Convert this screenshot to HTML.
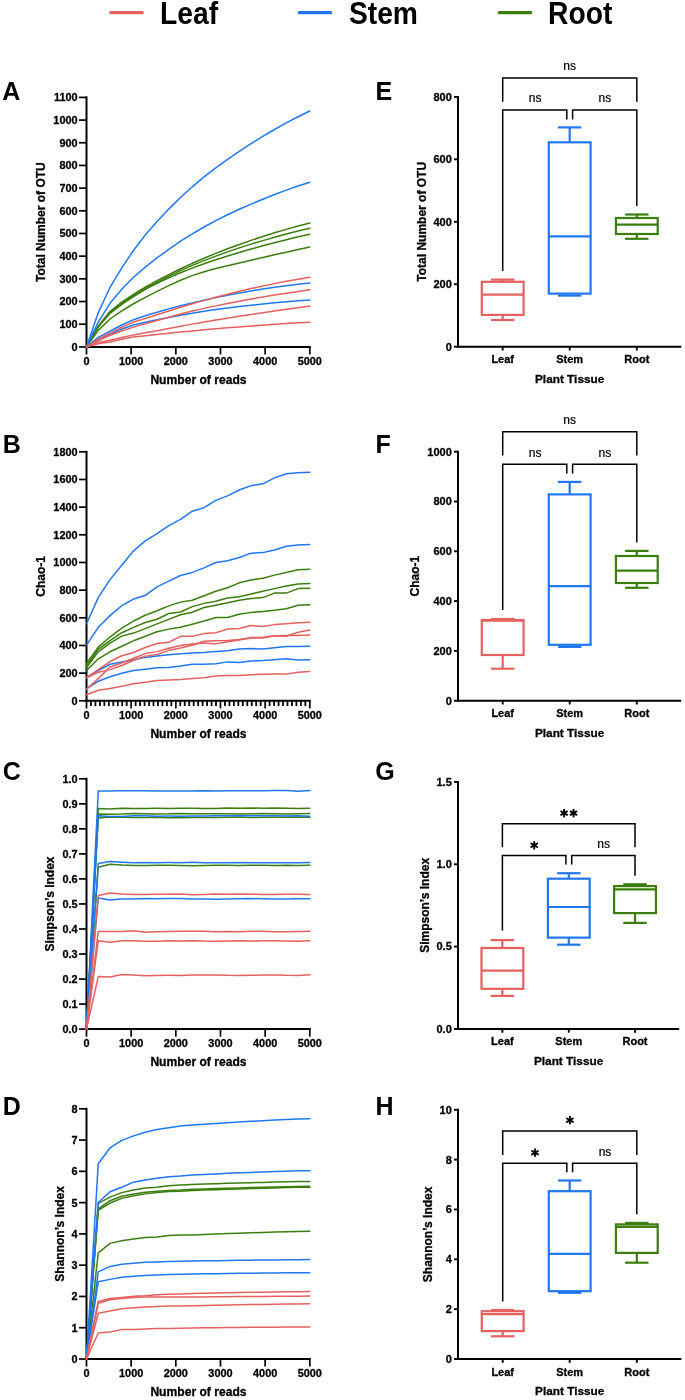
<!DOCTYPE html>
<html><head><meta charset="utf-8"><style>
html,body{margin:0;padding:0;background:#fff;}
svg{display:block;will-change:transform;}
text{font-family:"Liberation Sans", sans-serif;fill:#000;}
text.s{stroke:#000;stroke-width:0.3px;}
text.r{stroke:#000;stroke-width:0.22px;}
</style></head><body>
<svg width="685" height="1400" viewBox="0 0 685 1400">
<rect width="685" height="1400" fill="#fff"/>
<line x1="86.50" y1="96.40" x2="86.50" y2="347.90" stroke="#000" stroke-width="2.0" stroke-linecap="butt"/>
<line x1="85.50" y1="346.90" x2="310.80" y2="346.90" stroke="#000" stroke-width="2.0" stroke-linecap="butt"/>
<line x1="79.00" y1="346.90" x2="86.50" y2="346.90" stroke="#000" stroke-width="1.7" stroke-linecap="butt"/>
<text x="77.60" y="350.80" font-size="10.9" font-weight="bold" text-anchor="end" class="s">0</text>
<line x1="79.00" y1="324.22" x2="86.50" y2="324.22" stroke="#000" stroke-width="1.7" stroke-linecap="butt"/>
<text x="77.60" y="328.12" font-size="10.9" font-weight="bold" text-anchor="end" class="s">100</text>
<line x1="79.00" y1="301.54" x2="86.50" y2="301.54" stroke="#000" stroke-width="1.7" stroke-linecap="butt"/>
<text x="77.60" y="305.44" font-size="10.9" font-weight="bold" text-anchor="end" class="s">200</text>
<line x1="79.00" y1="278.85" x2="86.50" y2="278.85" stroke="#000" stroke-width="1.7" stroke-linecap="butt"/>
<text x="77.60" y="282.75" font-size="10.9" font-weight="bold" text-anchor="end" class="s">300</text>
<line x1="79.00" y1="256.17" x2="86.50" y2="256.17" stroke="#000" stroke-width="1.7" stroke-linecap="butt"/>
<text x="77.60" y="260.07" font-size="10.9" font-weight="bold" text-anchor="end" class="s">400</text>
<line x1="79.00" y1="233.49" x2="86.50" y2="233.49" stroke="#000" stroke-width="1.7" stroke-linecap="butt"/>
<text x="77.60" y="237.39" font-size="10.9" font-weight="bold" text-anchor="end" class="s">500</text>
<line x1="79.00" y1="210.81" x2="86.50" y2="210.81" stroke="#000" stroke-width="1.7" stroke-linecap="butt"/>
<text x="77.60" y="214.71" font-size="10.9" font-weight="bold" text-anchor="end" class="s">600</text>
<line x1="79.00" y1="188.13" x2="86.50" y2="188.13" stroke="#000" stroke-width="1.7" stroke-linecap="butt"/>
<text x="77.60" y="192.03" font-size="10.9" font-weight="bold" text-anchor="end" class="s">700</text>
<line x1="79.00" y1="165.45" x2="86.50" y2="165.45" stroke="#000" stroke-width="1.7" stroke-linecap="butt"/>
<text x="77.60" y="169.35" font-size="10.9" font-weight="bold" text-anchor="end" class="s">800</text>
<line x1="79.00" y1="142.76" x2="86.50" y2="142.76" stroke="#000" stroke-width="1.7" stroke-linecap="butt"/>
<text x="77.60" y="146.66" font-size="10.9" font-weight="bold" text-anchor="end" class="s">900</text>
<line x1="79.00" y1="120.08" x2="86.50" y2="120.08" stroke="#000" stroke-width="1.7" stroke-linecap="butt"/>
<text x="77.60" y="123.98" font-size="10.9" font-weight="bold" text-anchor="end" class="s">1000</text>
<line x1="79.00" y1="97.40" x2="86.50" y2="97.40" stroke="#000" stroke-width="1.7" stroke-linecap="butt"/>
<text x="77.60" y="101.30" font-size="10.9" font-weight="bold" text-anchor="end" class="s">1100</text>
<line x1="86.50" y1="346.90" x2="86.50" y2="354.50" stroke="#000" stroke-width="1.7" stroke-linecap="butt"/>
<text x="86.50" y="365.10" font-size="10.9" font-weight="bold" text-anchor="middle" class="s">0</text>
<line x1="131.16" y1="346.90" x2="131.16" y2="354.50" stroke="#000" stroke-width="1.7" stroke-linecap="butt"/>
<text x="131.16" y="365.10" font-size="10.9" font-weight="bold" text-anchor="middle" class="s">1000</text>
<line x1="175.82" y1="346.90" x2="175.82" y2="354.50" stroke="#000" stroke-width="1.7" stroke-linecap="butt"/>
<text x="175.82" y="365.10" font-size="10.9" font-weight="bold" text-anchor="middle" class="s">2000</text>
<line x1="220.48" y1="346.90" x2="220.48" y2="354.50" stroke="#000" stroke-width="1.7" stroke-linecap="butt"/>
<text x="220.48" y="365.10" font-size="10.9" font-weight="bold" text-anchor="middle" class="s">3000</text>
<line x1="265.14" y1="346.90" x2="265.14" y2="354.50" stroke="#000" stroke-width="1.7" stroke-linecap="butt"/>
<text x="265.14" y="365.10" font-size="10.9" font-weight="bold" text-anchor="middle" class="s">4000</text>
<line x1="309.80" y1="346.90" x2="309.80" y2="354.50" stroke="#000" stroke-width="1.7" stroke-linecap="butt"/>
<text x="309.80" y="365.10" font-size="10.9" font-weight="bold" text-anchor="middle" class="s">5000</text>
<text x="198.45" y="384.20" font-size="12.1" font-weight="bold" text-anchor="middle" class="s">Number of reads</text>
<text class="s" x="0" y="0" font-size="12" font-weight="bold" text-anchor="middle" transform="translate(45.00,222.15) rotate(-90)">Total Number of OTU</text>
<polyline points="86.50,346.90 98.25,330.34 110.01,319.00 121.76,310.84 133.51,303.76 145.26,297.31 157.02,291.32 168.77,285.58 180.52,280.29 192.27,275.65 204.03,271.81 215.78,268.55 227.53,265.66 239.28,262.95 251.04,260.26 262.79,257.51 274.54,254.80 286.29,252.16 298.05,249.60 309.80,247.10" fill="none" stroke="#3b7e0e" stroke-width="1.5" stroke-linejoin="round" stroke-linecap="round"/>
<polyline points="86.50,346.90 98.25,326.94 110.01,313.33 121.76,304.33 133.51,296.54 145.26,289.30 157.02,283.28 168.77,277.80 180.52,272.78 192.27,268.14 204.03,263.79 215.78,259.76 227.53,255.99 239.28,252.45 251.04,249.06 262.79,245.80 274.54,242.66 286.29,239.67 298.05,236.84 309.80,234.17" fill="none" stroke="#3b7e0e" stroke-width="1.5" stroke-linejoin="round" stroke-linecap="round"/>
<polyline points="86.50,346.90 98.25,326.49 110.01,312.42 121.76,303.22 133.51,295.44 145.26,288.35 157.02,282.05 168.77,276.13 180.52,270.59 192.27,265.42 204.03,260.61 215.78,256.11 227.53,251.87 239.28,247.89 251.04,244.15 262.79,240.60 274.54,237.22 286.29,234.03 298.05,231.04 309.80,228.27" fill="none" stroke="#3b7e0e" stroke-width="1.5" stroke-linejoin="round" stroke-linecap="round"/>
<polyline points="86.50,346.90 98.25,326.03 110.01,311.52 121.76,302.14 133.51,294.31 145.26,287.19 157.02,280.71 168.77,274.57 180.52,268.76 192.27,263.31 204.03,258.19 215.78,253.35 227.53,248.77 239.28,244.45 251.04,240.37 262.79,236.51 274.54,232.84 286.29,229.36 298.05,226.09 309.80,223.06" fill="none" stroke="#3b7e0e" stroke-width="1.5" stroke-linejoin="round" stroke-linecap="round"/>
<polyline points="86.50,346.90 98.25,339.19 110.01,334.20 121.76,329.05 133.51,324.94 145.26,322.32 157.02,319.83 168.77,317.44 180.52,315.20 192.27,313.14 204.03,311.30 215.78,309.60 227.53,308.03 239.28,306.58 251.04,305.25 262.79,304.02 274.54,302.87 286.29,301.79 298.05,300.82 309.80,299.95" fill="none" stroke="#2178ee" stroke-width="1.5" stroke-linejoin="round" stroke-linecap="round"/>
<polyline points="86.50,346.90 98.25,337.37 110.01,331.25 121.76,325.02 133.51,319.67 145.26,315.73 157.02,312.20 168.77,308.89 180.52,305.80 192.27,302.91 204.03,300.20 215.78,297.63 227.53,295.20 239.28,292.95 251.04,290.90 262.79,289.04 274.54,287.29 286.29,285.68 298.05,284.22 309.80,282.94" fill="none" stroke="#2178ee" stroke-width="1.5" stroke-linejoin="round" stroke-linecap="round"/>
<polyline points="86.50,346.90 98.25,322.18 110.01,303.35 121.76,289.21 133.51,277.25 145.26,267.10 157.02,257.94 168.77,249.31 180.52,241.24 192.27,233.80 204.03,226.98 215.78,220.67 227.53,214.79 239.28,209.29 251.04,204.12 262.79,199.21 274.54,194.55 286.29,190.14 298.05,186.03 309.80,182.23" fill="none" stroke="#2178ee" stroke-width="1.5" stroke-linejoin="round" stroke-linecap="round"/>
<polyline points="86.50,346.90 98.25,312.65 110.01,287.47 121.76,267.84 133.51,250.49 145.26,235.05 157.02,221.60 168.77,209.10 180.52,197.52 192.27,186.81 204.03,176.94 215.78,167.79 227.53,159.27 239.28,151.28 251.04,143.70 262.79,136.45 274.54,129.52 286.29,122.95 298.05,116.77 309.80,111.01" fill="none" stroke="#2178ee" stroke-width="1.5" stroke-linejoin="round" stroke-linecap="round"/>
<polyline points="86.50,346.90 98.25,343.72 110.01,341.91 121.76,339.28 133.51,337.05 145.26,335.74 157.02,334.46 168.77,333.21 180.52,332.02 192.27,330.88 204.03,329.82 215.78,328.80 227.53,327.83 239.28,326.90 251.04,326.02 262.79,325.18 274.54,324.37 286.29,323.60 298.05,322.87 309.80,322.18" fill="none" stroke="#e5615f" stroke-width="1.5" stroke-linejoin="round" stroke-linecap="round"/>
<polyline points="86.50,346.90 98.25,342.59 110.01,340.32 121.76,337.50 133.51,334.89 145.26,332.84 157.02,330.68 168.77,328.46 180.52,326.26 192.27,324.12 204.03,322.07 215.78,320.09 227.53,318.16 239.28,316.28 251.04,314.46 262.79,312.69 274.54,310.96 286.29,309.28 298.05,307.65 309.80,306.07" fill="none" stroke="#e5615f" stroke-width="1.5" stroke-linejoin="round" stroke-linecap="round"/>
<polyline points="86.50,346.90 98.25,340.78 110.01,335.33 121.76,330.95 133.51,327.12 145.26,323.74 157.02,320.43 168.77,317.16 180.52,314.02 192.27,311.08 204.03,308.38 215.78,305.87 227.53,303.50 239.28,301.25 251.04,299.11 262.79,297.05 274.54,295.08 286.29,293.20 298.05,291.42 309.80,289.74" fill="none" stroke="#e5615f" stroke-width="1.5" stroke-linejoin="round" stroke-linecap="round"/>
<polyline points="86.50,346.90 98.25,339.07 110.01,333.29 121.76,327.15 133.51,322.03 145.26,318.45 157.02,314.70 168.77,310.92 180.52,307.21 192.27,303.66 204.03,300.37 215.78,297.20 227.53,294.16 239.28,291.28 251.04,288.57 262.79,286.04 274.54,283.64 286.29,281.36 298.05,279.24 309.80,277.27" fill="none" stroke="#e5615f" stroke-width="1.5" stroke-linejoin="round" stroke-linecap="round"/>
<line x1="86.50" y1="450.80" x2="86.50" y2="701.80" stroke="#000" stroke-width="2.0" stroke-linecap="butt"/>
<line x1="85.50" y1="700.80" x2="310.80" y2="700.80" stroke="#000" stroke-width="2.0" stroke-linecap="butt"/>
<line x1="79.00" y1="700.80" x2="86.50" y2="700.80" stroke="#000" stroke-width="1.7" stroke-linecap="butt"/>
<text x="77.60" y="704.70" font-size="10.9" font-weight="bold" text-anchor="end" class="s">0</text>
<line x1="79.00" y1="673.13" x2="86.50" y2="673.13" stroke="#000" stroke-width="1.7" stroke-linecap="butt"/>
<text x="77.60" y="677.03" font-size="10.9" font-weight="bold" text-anchor="end" class="s">200</text>
<line x1="79.00" y1="645.47" x2="86.50" y2="645.47" stroke="#000" stroke-width="1.7" stroke-linecap="butt"/>
<text x="77.60" y="649.37" font-size="10.9" font-weight="bold" text-anchor="end" class="s">400</text>
<line x1="79.00" y1="617.80" x2="86.50" y2="617.80" stroke="#000" stroke-width="1.7" stroke-linecap="butt"/>
<text x="77.60" y="621.70" font-size="10.9" font-weight="bold" text-anchor="end" class="s">600</text>
<line x1="79.00" y1="590.13" x2="86.50" y2="590.13" stroke="#000" stroke-width="1.7" stroke-linecap="butt"/>
<text x="77.60" y="594.03" font-size="10.9" font-weight="bold" text-anchor="end" class="s">800</text>
<line x1="79.00" y1="562.47" x2="86.50" y2="562.47" stroke="#000" stroke-width="1.7" stroke-linecap="butt"/>
<text x="77.60" y="566.37" font-size="10.9" font-weight="bold" text-anchor="end" class="s">1000</text>
<line x1="79.00" y1="534.80" x2="86.50" y2="534.80" stroke="#000" stroke-width="1.7" stroke-linecap="butt"/>
<text x="77.60" y="538.70" font-size="10.9" font-weight="bold" text-anchor="end" class="s">1200</text>
<line x1="79.00" y1="507.13" x2="86.50" y2="507.13" stroke="#000" stroke-width="1.7" stroke-linecap="butt"/>
<text x="77.60" y="511.03" font-size="10.9" font-weight="bold" text-anchor="end" class="s">1400</text>
<line x1="79.00" y1="479.47" x2="86.50" y2="479.47" stroke="#000" stroke-width="1.7" stroke-linecap="butt"/>
<text x="77.60" y="483.37" font-size="10.9" font-weight="bold" text-anchor="end" class="s">1600</text>
<line x1="79.00" y1="451.80" x2="86.50" y2="451.80" stroke="#000" stroke-width="1.7" stroke-linecap="butt"/>
<text x="77.60" y="455.70" font-size="10.9" font-weight="bold" text-anchor="end" class="s">1800</text>
<line x1="86.50" y1="700.80" x2="86.50" y2="708.40" stroke="#000" stroke-width="1.7" stroke-linecap="butt"/>
<text x="86.50" y="719.00" font-size="10.9" font-weight="bold" text-anchor="middle" class="s">0</text>
<line x1="131.16" y1="700.80" x2="131.16" y2="708.40" stroke="#000" stroke-width="1.7" stroke-linecap="butt"/>
<text x="131.16" y="719.00" font-size="10.9" font-weight="bold" text-anchor="middle" class="s">1000</text>
<line x1="175.82" y1="700.80" x2="175.82" y2="708.40" stroke="#000" stroke-width="1.7" stroke-linecap="butt"/>
<text x="175.82" y="719.00" font-size="10.9" font-weight="bold" text-anchor="middle" class="s">2000</text>
<line x1="220.48" y1="700.80" x2="220.48" y2="708.40" stroke="#000" stroke-width="1.7" stroke-linecap="butt"/>
<text x="220.48" y="719.00" font-size="10.9" font-weight="bold" text-anchor="middle" class="s">3000</text>
<line x1="265.14" y1="700.80" x2="265.14" y2="708.40" stroke="#000" stroke-width="1.7" stroke-linecap="butt"/>
<text x="265.14" y="719.00" font-size="10.9" font-weight="bold" text-anchor="middle" class="s">4000</text>
<line x1="309.80" y1="700.80" x2="309.80" y2="708.40" stroke="#000" stroke-width="1.7" stroke-linecap="butt"/>
<text x="309.80" y="719.00" font-size="10.9" font-weight="bold" text-anchor="middle" class="s">5000</text>
<line x1="90.97" y1="700.80" x2="90.97" y2="706.10" stroke="#000" stroke-width="1.8" stroke-linecap="butt"/>
<line x1="95.43" y1="700.80" x2="95.43" y2="706.10" stroke="#000" stroke-width="1.8" stroke-linecap="butt"/>
<line x1="99.90" y1="700.80" x2="99.90" y2="706.10" stroke="#000" stroke-width="1.8" stroke-linecap="butt"/>
<line x1="104.36" y1="700.80" x2="104.36" y2="706.10" stroke="#000" stroke-width="1.8" stroke-linecap="butt"/>
<line x1="108.83" y1="700.80" x2="108.83" y2="706.10" stroke="#000" stroke-width="1.8" stroke-linecap="butt"/>
<line x1="113.30" y1="700.80" x2="113.30" y2="706.10" stroke="#000" stroke-width="1.8" stroke-linecap="butt"/>
<line x1="117.76" y1="700.80" x2="117.76" y2="706.10" stroke="#000" stroke-width="1.8" stroke-linecap="butt"/>
<line x1="122.23" y1="700.80" x2="122.23" y2="706.10" stroke="#000" stroke-width="1.8" stroke-linecap="butt"/>
<line x1="126.69" y1="700.80" x2="126.69" y2="706.10" stroke="#000" stroke-width="1.8" stroke-linecap="butt"/>
<line x1="135.63" y1="700.80" x2="135.63" y2="706.10" stroke="#000" stroke-width="1.8" stroke-linecap="butt"/>
<line x1="140.09" y1="700.80" x2="140.09" y2="706.10" stroke="#000" stroke-width="1.8" stroke-linecap="butt"/>
<line x1="144.56" y1="700.80" x2="144.56" y2="706.10" stroke="#000" stroke-width="1.8" stroke-linecap="butt"/>
<line x1="149.02" y1="700.80" x2="149.02" y2="706.10" stroke="#000" stroke-width="1.8" stroke-linecap="butt"/>
<line x1="153.49" y1="700.80" x2="153.49" y2="706.10" stroke="#000" stroke-width="1.8" stroke-linecap="butt"/>
<line x1="157.96" y1="700.80" x2="157.96" y2="706.10" stroke="#000" stroke-width="1.8" stroke-linecap="butt"/>
<line x1="162.42" y1="700.80" x2="162.42" y2="706.10" stroke="#000" stroke-width="1.8" stroke-linecap="butt"/>
<line x1="166.89" y1="700.80" x2="166.89" y2="706.10" stroke="#000" stroke-width="1.8" stroke-linecap="butt"/>
<line x1="171.35" y1="700.80" x2="171.35" y2="706.10" stroke="#000" stroke-width="1.8" stroke-linecap="butt"/>
<line x1="180.29" y1="700.80" x2="180.29" y2="706.10" stroke="#000" stroke-width="1.8" stroke-linecap="butt"/>
<line x1="184.75" y1="700.80" x2="184.75" y2="706.10" stroke="#000" stroke-width="1.8" stroke-linecap="butt"/>
<line x1="189.22" y1="700.80" x2="189.22" y2="706.10" stroke="#000" stroke-width="1.8" stroke-linecap="butt"/>
<line x1="193.68" y1="700.80" x2="193.68" y2="706.10" stroke="#000" stroke-width="1.8" stroke-linecap="butt"/>
<line x1="198.15" y1="700.80" x2="198.15" y2="706.10" stroke="#000" stroke-width="1.8" stroke-linecap="butt"/>
<line x1="202.62" y1="700.80" x2="202.62" y2="706.10" stroke="#000" stroke-width="1.8" stroke-linecap="butt"/>
<line x1="207.08" y1="700.80" x2="207.08" y2="706.10" stroke="#000" stroke-width="1.8" stroke-linecap="butt"/>
<line x1="211.55" y1="700.80" x2="211.55" y2="706.10" stroke="#000" stroke-width="1.8" stroke-linecap="butt"/>
<line x1="216.01" y1="700.80" x2="216.01" y2="706.10" stroke="#000" stroke-width="1.8" stroke-linecap="butt"/>
<line x1="224.95" y1="700.80" x2="224.95" y2="706.10" stroke="#000" stroke-width="1.8" stroke-linecap="butt"/>
<line x1="229.41" y1="700.80" x2="229.41" y2="706.10" stroke="#000" stroke-width="1.8" stroke-linecap="butt"/>
<line x1="233.88" y1="700.80" x2="233.88" y2="706.10" stroke="#000" stroke-width="1.8" stroke-linecap="butt"/>
<line x1="238.34" y1="700.80" x2="238.34" y2="706.10" stroke="#000" stroke-width="1.8" stroke-linecap="butt"/>
<line x1="242.81" y1="700.80" x2="242.81" y2="706.10" stroke="#000" stroke-width="1.8" stroke-linecap="butt"/>
<line x1="247.28" y1="700.80" x2="247.28" y2="706.10" stroke="#000" stroke-width="1.8" stroke-linecap="butt"/>
<line x1="251.74" y1="700.80" x2="251.74" y2="706.10" stroke="#000" stroke-width="1.8" stroke-linecap="butt"/>
<line x1="256.21" y1="700.80" x2="256.21" y2="706.10" stroke="#000" stroke-width="1.8" stroke-linecap="butt"/>
<line x1="260.67" y1="700.80" x2="260.67" y2="706.10" stroke="#000" stroke-width="1.8" stroke-linecap="butt"/>
<line x1="269.61" y1="700.80" x2="269.61" y2="706.10" stroke="#000" stroke-width="1.8" stroke-linecap="butt"/>
<line x1="274.07" y1="700.80" x2="274.07" y2="706.10" stroke="#000" stroke-width="1.8" stroke-linecap="butt"/>
<line x1="278.54" y1="700.80" x2="278.54" y2="706.10" stroke="#000" stroke-width="1.8" stroke-linecap="butt"/>
<line x1="283.00" y1="700.80" x2="283.00" y2="706.10" stroke="#000" stroke-width="1.8" stroke-linecap="butt"/>
<line x1="287.47" y1="700.80" x2="287.47" y2="706.10" stroke="#000" stroke-width="1.8" stroke-linecap="butt"/>
<line x1="291.94" y1="700.80" x2="291.94" y2="706.10" stroke="#000" stroke-width="1.8" stroke-linecap="butt"/>
<line x1="296.40" y1="700.80" x2="296.40" y2="706.10" stroke="#000" stroke-width="1.8" stroke-linecap="butt"/>
<line x1="300.87" y1="700.80" x2="300.87" y2="706.10" stroke="#000" stroke-width="1.8" stroke-linecap="butt"/>
<line x1="305.33" y1="700.80" x2="305.33" y2="706.10" stroke="#000" stroke-width="1.8" stroke-linecap="butt"/>
<text x="198.45" y="738.10" font-size="12.1" font-weight="bold" text-anchor="middle" class="s">Number of reads</text>
<text class="s" x="0" y="0" font-size="12" font-weight="bold" text-anchor="middle" transform="translate(45.40,576.30) rotate(-90)">Chao-1</text>
<polyline points="86.50,670.52 98.25,658.82 110.01,651.80 121.76,646.22 133.51,640.82 145.26,636.32 157.02,631.82 168.77,629.12 180.52,627.32 192.27,624.26 204.03,621.02 215.78,617.42 227.53,617.42 239.28,614.18 251.04,612.38 262.79,611.48 274.54,610.22 286.29,608.78 298.05,605.18 309.80,604.82" fill="none" stroke="#3b7e0e" stroke-width="1.5" stroke-linejoin="round" stroke-linecap="round"/>
<polyline points="86.50,667.46 98.25,651.80 110.01,643.16 121.76,636.14 133.51,633.08 145.26,628.58 157.02,623.90 168.77,619.40 180.52,614.72 192.27,612.20 204.03,607.52 215.78,605.18 227.53,602.66 239.28,600.32 251.04,598.51 262.79,597.61 274.54,593.11 286.29,593.11 298.05,588.61 309.80,588.25" fill="none" stroke="#3b7e0e" stroke-width="1.5" stroke-linejoin="round" stroke-linecap="round"/>
<polyline points="86.50,665.48 98.25,649.28 110.01,640.64 121.76,632.72 133.51,627.32 145.26,622.46 157.02,619.22 168.77,613.46 180.52,612.02 192.27,606.62 204.03,603.38 215.78,601.22 227.53,597.97 239.28,596.71 251.04,594.01 262.79,591.31 274.54,588.61 286.29,585.91 298.05,584.11 309.80,583.57" fill="none" stroke="#3b7e0e" stroke-width="1.5" stroke-linejoin="round" stroke-linecap="round"/>
<polyline points="86.50,663.50 98.25,647.12 110.01,637.04 121.76,628.22 133.51,621.02 145.26,615.26 157.02,610.76 168.77,605.90 180.52,602.12 192.27,600.32 204.03,595.81 215.78,591.31 227.53,587.71 239.28,582.85 251.04,579.97 262.79,578.17 274.54,575.11 286.29,572.41 298.05,569.71 309.80,569.17" fill="none" stroke="#3b7e0e" stroke-width="1.5" stroke-linejoin="round" stroke-linecap="round"/>
<polyline points="86.50,688.52 98.25,681.32 110.01,676.82 121.76,673.22 133.51,670.52 145.26,669.26 157.02,667.82 168.77,667.46 180.52,666.02 192.27,664.22 204.03,664.22 215.78,663.68 227.53,661.88 239.28,662.42 251.04,660.98 262.79,660.62 274.54,659.72 286.29,658.82 298.05,660.08 309.80,659.72" fill="none" stroke="#2178ee" stroke-width="1.5" stroke-linejoin="round" stroke-linecap="round"/>
<polyline points="86.50,677.72 98.25,670.52 110.01,664.22 121.76,662.06 133.51,659.72 145.26,657.38 157.02,656.12 168.77,654.86 180.52,653.78 192.27,653.06 204.03,652.52 215.78,651.62 227.53,650.72 239.28,648.92 251.04,648.56 262.79,648.92 274.54,647.66 286.29,646.58 298.05,646.58 309.80,646.22" fill="none" stroke="#2178ee" stroke-width="1.5" stroke-linejoin="round" stroke-linecap="round"/>
<polyline points="86.50,645.14 98.25,627.32 110.01,615.62 121.76,605.72 133.51,599.05 145.26,595.45 157.02,586.81 168.77,581.05 180.52,575.47 192.27,572.41 204.03,567.91 215.78,562.51 227.53,560.71 239.28,557.47 251.04,553.15 262.79,552.61 274.54,549.91 286.29,546.31 298.05,545.05 309.80,544.51" fill="none" stroke="#2178ee" stroke-width="1.5" stroke-linejoin="round" stroke-linecap="round"/>
<polyline points="86.50,623.72 98.25,597.61 110.01,579.61 121.76,565.21 133.51,550.81 145.26,540.91 157.02,533.71 168.77,525.61 180.52,519.31 192.27,511.21 204.03,507.61 215.78,500.41 227.53,495.90 239.28,489.96 251.04,485.64 262.79,483.84 274.54,477.90 286.29,473.76 298.05,472.86 309.80,472.32" fill="none" stroke="#2178ee" stroke-width="1.5" stroke-linejoin="round" stroke-linecap="round"/>
<polyline points="86.50,694.82 98.25,690.32 110.01,688.52 121.76,686.36 133.51,683.66 145.26,682.22 157.02,680.42 168.77,679.88 180.52,679.52 192.27,678.62 204.03,677.72 215.78,675.92 227.53,675.56 239.28,675.38 251.04,674.66 262.79,674.30 274.54,674.12 286.29,674.12 298.05,672.32 309.80,671.42" fill="none" stroke="#e5615f" stroke-width="1.5" stroke-linejoin="round" stroke-linecap="round"/>
<polyline points="86.50,689.42 98.25,678.62 110.01,666.92 121.76,662.96 133.51,658.28 145.26,653.60 157.02,651.62 168.77,648.20 180.52,645.50 192.27,644.06 204.03,642.98 215.78,643.88 227.53,641.72 239.28,639.92 251.04,638.12 262.79,638.12 274.54,635.78 286.29,635.42 298.05,635.42 309.80,635.06" fill="none" stroke="#e5615f" stroke-width="1.5" stroke-linejoin="round" stroke-linecap="round"/>
<polyline points="86.50,677.72 98.25,672.32 110.01,669.62 121.76,665.48 133.51,660.26 145.26,656.12 157.02,654.50 168.77,650.36 180.52,648.02 192.27,645.32 204.03,641.18 215.78,640.82 227.53,640.46 239.28,639.38 251.04,637.58 262.79,637.22 274.54,635.78 286.29,636.32 298.05,632.18 309.80,630.02" fill="none" stroke="#e5615f" stroke-width="1.5" stroke-linejoin="round" stroke-linecap="round"/>
<polyline points="86.50,677.72 98.25,669.62 110.01,661.52 121.76,655.76 133.51,652.52 145.26,647.48 157.02,643.52 168.77,642.26 180.52,636.32 192.27,636.32 204.03,633.62 215.78,632.72 227.53,629.12 239.28,628.58 251.04,625.52 262.79,626.42 274.54,624.62 286.29,623.72 298.05,622.82 309.80,622.28" fill="none" stroke="#e5615f" stroke-width="1.5" stroke-linejoin="round" stroke-linecap="round"/>
<line x1="86.50" y1="777.80" x2="86.50" y2="1030.10" stroke="#000" stroke-width="2.0" stroke-linecap="butt"/>
<line x1="85.50" y1="1029.10" x2="310.80" y2="1029.10" stroke="#000" stroke-width="2.0" stroke-linecap="butt"/>
<line x1="79.00" y1="1029.10" x2="86.50" y2="1029.10" stroke="#000" stroke-width="1.7" stroke-linecap="butt"/>
<text x="77.60" y="1033.00" font-size="10.9" font-weight="bold" text-anchor="end" class="s">0.0</text>
<line x1="79.00" y1="1004.07" x2="86.50" y2="1004.07" stroke="#000" stroke-width="1.7" stroke-linecap="butt"/>
<text x="77.60" y="1007.97" font-size="10.9" font-weight="bold" text-anchor="end" class="s">0.1</text>
<line x1="79.00" y1="979.04" x2="86.50" y2="979.04" stroke="#000" stroke-width="1.7" stroke-linecap="butt"/>
<text x="77.60" y="982.94" font-size="10.9" font-weight="bold" text-anchor="end" class="s">0.2</text>
<line x1="79.00" y1="954.01" x2="86.50" y2="954.01" stroke="#000" stroke-width="1.7" stroke-linecap="butt"/>
<text x="77.60" y="957.91" font-size="10.9" font-weight="bold" text-anchor="end" class="s">0.3</text>
<line x1="79.00" y1="928.98" x2="86.50" y2="928.98" stroke="#000" stroke-width="1.7" stroke-linecap="butt"/>
<text x="77.60" y="932.88" font-size="10.9" font-weight="bold" text-anchor="end" class="s">0.4</text>
<line x1="79.00" y1="903.95" x2="86.50" y2="903.95" stroke="#000" stroke-width="1.7" stroke-linecap="butt"/>
<text x="77.60" y="907.85" font-size="10.9" font-weight="bold" text-anchor="end" class="s">0.5</text>
<line x1="79.00" y1="878.92" x2="86.50" y2="878.92" stroke="#000" stroke-width="1.7" stroke-linecap="butt"/>
<text x="77.60" y="882.82" font-size="10.9" font-weight="bold" text-anchor="end" class="s">0.6</text>
<line x1="79.00" y1="853.89" x2="86.50" y2="853.89" stroke="#000" stroke-width="1.7" stroke-linecap="butt"/>
<text x="77.60" y="857.79" font-size="10.9" font-weight="bold" text-anchor="end" class="s">0.7</text>
<line x1="79.00" y1="828.86" x2="86.50" y2="828.86" stroke="#000" stroke-width="1.7" stroke-linecap="butt"/>
<text x="77.60" y="832.76" font-size="10.9" font-weight="bold" text-anchor="end" class="s">0.8</text>
<line x1="79.00" y1="803.83" x2="86.50" y2="803.83" stroke="#000" stroke-width="1.7" stroke-linecap="butt"/>
<text x="77.60" y="807.73" font-size="10.9" font-weight="bold" text-anchor="end" class="s">0.9</text>
<line x1="79.00" y1="778.80" x2="86.50" y2="778.80" stroke="#000" stroke-width="1.7" stroke-linecap="butt"/>
<text x="77.60" y="782.70" font-size="10.9" font-weight="bold" text-anchor="end" class="s">1.0</text>
<line x1="86.50" y1="1029.10" x2="86.50" y2="1036.70" stroke="#000" stroke-width="1.7" stroke-linecap="butt"/>
<text x="86.50" y="1047.30" font-size="10.9" font-weight="bold" text-anchor="middle" class="s">0</text>
<line x1="131.16" y1="1029.10" x2="131.16" y2="1036.70" stroke="#000" stroke-width="1.7" stroke-linecap="butt"/>
<text x="131.16" y="1047.30" font-size="10.9" font-weight="bold" text-anchor="middle" class="s">1000</text>
<line x1="175.82" y1="1029.10" x2="175.82" y2="1036.70" stroke="#000" stroke-width="1.7" stroke-linecap="butt"/>
<text x="175.82" y="1047.30" font-size="10.9" font-weight="bold" text-anchor="middle" class="s">2000</text>
<line x1="220.48" y1="1029.10" x2="220.48" y2="1036.70" stroke="#000" stroke-width="1.7" stroke-linecap="butt"/>
<text x="220.48" y="1047.30" font-size="10.9" font-weight="bold" text-anchor="middle" class="s">3000</text>
<line x1="265.14" y1="1029.10" x2="265.14" y2="1036.70" stroke="#000" stroke-width="1.7" stroke-linecap="butt"/>
<text x="265.14" y="1047.30" font-size="10.9" font-weight="bold" text-anchor="middle" class="s">4000</text>
<line x1="309.80" y1="1029.10" x2="309.80" y2="1036.70" stroke="#000" stroke-width="1.7" stroke-linecap="butt"/>
<text x="309.80" y="1047.30" font-size="10.9" font-weight="bold" text-anchor="middle" class="s">5000</text>
<text x="198.45" y="1066.40" font-size="12.1" font-weight="bold" text-anchor="middle" class="s">Number of reads</text>
<text class="s" x="0" y="0" font-size="12" font-weight="bold" text-anchor="middle" transform="translate(53.60,903.95) rotate(-90)">Simpson’s Index</text>
<polyline points="86.50,1029.10 98.25,808.60 110.01,809.10 121.76,808.20 133.51,808.40 145.26,808.40 157.02,808.37 168.77,808.48 180.52,808.19 192.27,808.34 204.03,808.61 215.78,808.61 227.53,808.07 239.28,808.13 251.04,808.02 262.79,808.29 274.54,808.00 286.29,808.30 298.05,808.44 309.80,808.18" fill="none" stroke="#3b7e0e" stroke-width="1.5" stroke-linejoin="round" stroke-linecap="round"/>
<polyline points="86.50,1029.10 98.25,814.10 110.01,814.30 121.76,814.10 133.51,813.50 145.26,813.80 157.02,813.92 168.77,813.86 180.52,813.47 192.27,813.84 204.03,813.63 215.78,813.74 227.53,813.65 239.28,813.94 251.04,813.76 262.79,813.56 274.54,813.83 286.29,814.00 298.05,813.66 309.80,813.61" fill="none" stroke="#3b7e0e" stroke-width="1.5" stroke-linejoin="round" stroke-linecap="round"/>
<polyline points="86.50,1029.10 98.25,818.10 110.01,817.00 121.76,817.20 133.51,817.40 145.26,817.40 157.02,817.25 168.77,817.64 180.52,817.67 192.27,817.45 204.03,817.62 215.78,817.58 227.53,817.25 239.28,817.05 251.04,817.44 262.79,817.37 274.54,817.24 286.29,817.14 298.05,817.27 309.80,817.31" fill="none" stroke="#3b7e0e" stroke-width="1.5" stroke-linejoin="round" stroke-linecap="round"/>
<polyline points="86.50,1029.10 98.25,867.30 110.01,864.30 121.76,865.10 133.51,865.60 145.26,865.60 157.02,865.27 168.77,865.29 180.52,865.40 192.27,865.69 204.03,865.49 215.78,865.28 227.53,865.28 239.28,865.40 251.04,865.23 262.79,865.22 274.54,865.44 286.29,865.14 298.05,865.42 309.80,865.34" fill="none" stroke="#3b7e0e" stroke-width="1.5" stroke-linejoin="round" stroke-linecap="round"/>
<polyline points="86.50,1029.10 98.25,791.10 110.01,790.90 121.76,790.80 133.51,790.80 145.26,790.80 157.02,790.95 168.77,790.97 180.52,790.93 192.27,790.93 204.03,790.71 215.78,790.92 227.53,790.69 239.28,790.85 251.04,790.68 262.79,790.76 274.54,790.49 286.29,790.62 298.05,791.13 309.80,790.61" fill="none" stroke="#2178ee" stroke-width="1.5" stroke-linejoin="round" stroke-linecap="round"/>
<polyline points="86.50,1029.10 98.25,815.80 110.01,816.40 121.76,816.50 133.51,815.70 145.26,815.80 157.02,816.13 168.77,816.11 180.52,816.16 192.27,815.98 204.03,816.07 215.78,815.70 227.53,815.70 239.28,815.79 251.04,815.76 262.79,815.72 274.54,815.74 286.29,816.04 298.05,815.78 309.80,816.32" fill="none" stroke="#2178ee" stroke-width="1.5" stroke-linejoin="round" stroke-linecap="round"/>
<polyline points="86.50,1029.10 98.25,863.40 110.01,861.60 121.76,862.20 133.51,862.80 145.26,862.60 157.02,862.66 168.77,862.56 180.52,862.68 192.27,862.37 204.03,862.83 215.78,862.77 227.53,862.69 239.28,862.52 251.04,862.77 262.79,862.70 274.54,862.65 286.29,862.82 298.05,862.63 309.80,862.44" fill="none" stroke="#2178ee" stroke-width="1.5" stroke-linejoin="round" stroke-linecap="round"/>
<polyline points="86.50,1029.10 98.25,898.00 110.01,900.00 121.76,898.90 133.51,899.00 145.26,898.50 157.02,898.84 168.77,898.59 180.52,898.58 192.27,898.96 204.03,899.00 215.78,899.13 227.53,899.05 239.28,898.83 251.04,898.51 262.79,898.79 274.54,899.10 286.29,899.00 298.05,898.79 309.80,898.77" fill="none" stroke="#2178ee" stroke-width="1.5" stroke-linejoin="round" stroke-linecap="round"/>
<polyline points="86.50,1029.10 98.25,895.60 110.01,893.00 121.76,894.10 133.51,894.50 145.26,894.50 157.02,894.17 168.77,894.14 180.52,894.07 192.27,894.64 204.03,894.46 215.78,894.12 227.53,894.31 239.28,894.05 251.04,894.16 262.79,894.53 274.54,894.47 286.29,894.35 298.05,894.21 309.80,894.47" fill="none" stroke="#e5615f" stroke-width="1.5" stroke-linejoin="round" stroke-linecap="round"/>
<polyline points="86.50,1029.10 98.25,931.40 110.01,931.60 121.76,931.40 133.51,930.80 145.26,932.30 157.02,931.82 168.77,931.45 180.52,931.20 192.27,931.19 204.03,931.21 215.78,931.82 227.53,931.53 239.28,931.74 251.04,931.27 262.79,931.33 274.54,931.63 286.29,931.78 298.05,931.39 309.80,931.20" fill="none" stroke="#e5615f" stroke-width="1.5" stroke-linejoin="round" stroke-linecap="round"/>
<polyline points="86.50,1029.10 98.25,940.80 110.01,942.30 121.76,940.80 133.51,940.80 145.26,941.20 157.02,941.19 168.77,940.79 180.52,941.10 192.27,940.69 204.03,941.07 215.78,941.17 227.53,941.09 239.28,940.83 251.04,941.09 262.79,940.68 274.54,940.80 286.29,940.88 298.05,941.20 309.80,940.69" fill="none" stroke="#e5615f" stroke-width="1.5" stroke-linejoin="round" stroke-linecap="round"/>
<polyline points="86.50,1029.10 98.25,976.60 110.01,977.10 121.76,974.60 133.51,975.10 145.26,975.70 157.02,975.40 168.77,975.34 180.52,975.46 192.27,975.04 204.03,974.93 215.78,974.95 227.53,975.36 239.28,975.46 251.04,975.27 262.79,975.12 274.54,974.98 286.29,975.37 298.05,975.39 309.80,974.85" fill="none" stroke="#e5615f" stroke-width="1.5" stroke-linejoin="round" stroke-linecap="round"/>
<line x1="86.50" y1="1107.80" x2="86.50" y2="1360.00" stroke="#000" stroke-width="2.0" stroke-linecap="butt"/>
<line x1="85.50" y1="1359.00" x2="310.80" y2="1359.00" stroke="#000" stroke-width="2.0" stroke-linecap="butt"/>
<line x1="79.00" y1="1359.00" x2="86.50" y2="1359.00" stroke="#000" stroke-width="1.7" stroke-linecap="butt"/>
<text x="77.60" y="1362.90" font-size="10.9" font-weight="bold" text-anchor="end" class="s">0</text>
<line x1="79.00" y1="1327.72" x2="86.50" y2="1327.72" stroke="#000" stroke-width="1.7" stroke-linecap="butt"/>
<text x="77.60" y="1331.62" font-size="10.9" font-weight="bold" text-anchor="end" class="s">1</text>
<line x1="79.00" y1="1296.45" x2="86.50" y2="1296.45" stroke="#000" stroke-width="1.7" stroke-linecap="butt"/>
<text x="77.60" y="1300.35" font-size="10.9" font-weight="bold" text-anchor="end" class="s">2</text>
<line x1="79.00" y1="1265.17" x2="86.50" y2="1265.17" stroke="#000" stroke-width="1.7" stroke-linecap="butt"/>
<text x="77.60" y="1269.08" font-size="10.9" font-weight="bold" text-anchor="end" class="s">3</text>
<line x1="79.00" y1="1233.90" x2="86.50" y2="1233.90" stroke="#000" stroke-width="1.7" stroke-linecap="butt"/>
<text x="77.60" y="1237.80" font-size="10.9" font-weight="bold" text-anchor="end" class="s">4</text>
<line x1="79.00" y1="1202.62" x2="86.50" y2="1202.62" stroke="#000" stroke-width="1.7" stroke-linecap="butt"/>
<text x="77.60" y="1206.53" font-size="10.9" font-weight="bold" text-anchor="end" class="s">5</text>
<line x1="79.00" y1="1171.35" x2="86.50" y2="1171.35" stroke="#000" stroke-width="1.7" stroke-linecap="butt"/>
<text x="77.60" y="1175.25" font-size="10.9" font-weight="bold" text-anchor="end" class="s">6</text>
<line x1="79.00" y1="1140.08" x2="86.50" y2="1140.08" stroke="#000" stroke-width="1.7" stroke-linecap="butt"/>
<text x="77.60" y="1143.98" font-size="10.9" font-weight="bold" text-anchor="end" class="s">7</text>
<line x1="79.00" y1="1108.80" x2="86.50" y2="1108.80" stroke="#000" stroke-width="1.7" stroke-linecap="butt"/>
<text x="77.60" y="1112.70" font-size="10.9" font-weight="bold" text-anchor="end" class="s">8</text>
<line x1="86.50" y1="1359.00" x2="86.50" y2="1366.60" stroke="#000" stroke-width="1.7" stroke-linecap="butt"/>
<text x="86.50" y="1377.20" font-size="10.9" font-weight="bold" text-anchor="middle" class="s">0</text>
<line x1="131.16" y1="1359.00" x2="131.16" y2="1366.60" stroke="#000" stroke-width="1.7" stroke-linecap="butt"/>
<text x="131.16" y="1377.20" font-size="10.9" font-weight="bold" text-anchor="middle" class="s">1000</text>
<line x1="175.82" y1="1359.00" x2="175.82" y2="1366.60" stroke="#000" stroke-width="1.7" stroke-linecap="butt"/>
<text x="175.82" y="1377.20" font-size="10.9" font-weight="bold" text-anchor="middle" class="s">2000</text>
<line x1="220.48" y1="1359.00" x2="220.48" y2="1366.60" stroke="#000" stroke-width="1.7" stroke-linecap="butt"/>
<text x="220.48" y="1377.20" font-size="10.9" font-weight="bold" text-anchor="middle" class="s">3000</text>
<line x1="265.14" y1="1359.00" x2="265.14" y2="1366.60" stroke="#000" stroke-width="1.7" stroke-linecap="butt"/>
<text x="265.14" y="1377.20" font-size="10.9" font-weight="bold" text-anchor="middle" class="s">4000</text>
<line x1="309.80" y1="1359.00" x2="309.80" y2="1366.60" stroke="#000" stroke-width="1.7" stroke-linecap="butt"/>
<text x="309.80" y="1377.20" font-size="10.9" font-weight="bold" text-anchor="middle" class="s">5000</text>
<text x="198.45" y="1396.30" font-size="12.1" font-weight="bold" text-anchor="middle" class="s">Number of reads</text>
<text class="s" x="0" y="0" font-size="12" font-weight="bold" text-anchor="middle" transform="translate(64.20,1233.90) rotate(-90)">Shannon’s Index</text>
<polyline points="86.50,1359.00 98.25,1252.91 110.01,1243.37 121.76,1240.85 133.51,1239.05 145.26,1237.61 157.02,1236.89 168.77,1235.45 180.52,1235.09 192.27,1234.91 204.03,1234.45 215.78,1234.01 227.53,1233.58 239.28,1233.17 251.04,1232.77 262.79,1232.41 274.54,1232.06 286.29,1231.76 298.05,1231.49 309.80,1231.31" fill="none" stroke="#3b7e0e" stroke-width="1.5" stroke-linejoin="round" stroke-linecap="round"/>
<polyline points="86.50,1359.00 98.25,1210.25 110.01,1203.05 121.76,1198.37 133.51,1195.85 145.26,1193.87 157.02,1192.43 168.77,1191.53 180.52,1191.17 192.27,1190.45 204.03,1190.03 215.78,1189.63 227.53,1189.25 239.28,1188.88 251.04,1188.52 262.79,1188.19 274.54,1187.89 286.29,1187.61 298.05,1187.37 309.80,1187.21" fill="none" stroke="#3b7e0e" stroke-width="1.5" stroke-linejoin="round" stroke-linecap="round"/>
<polyline points="86.50,1359.00 98.25,1208.81 110.01,1200.71 121.76,1196.21 133.51,1194.05 145.26,1192.25 157.02,1191.17 168.77,1190.45 180.52,1190.09 192.27,1189.37 204.03,1188.98 215.78,1188.60 227.53,1188.23 239.28,1187.88 251.04,1187.55 262.79,1187.24 274.54,1186.95 286.29,1186.69 298.05,1186.46 309.80,1186.31" fill="none" stroke="#3b7e0e" stroke-width="1.5" stroke-linejoin="round" stroke-linecap="round"/>
<polyline points="86.50,1359.00 98.25,1203.41 110.01,1197.11 121.76,1192.61 133.51,1189.91 145.26,1188.11 157.02,1187.21 168.77,1185.77 180.52,1185.05 192.27,1184.51 204.03,1184.12 215.78,1183.74 227.53,1183.37 239.28,1183.02 251.04,1182.69 262.79,1182.38 274.54,1182.09 286.29,1181.83 298.05,1181.60 309.80,1181.45" fill="none" stroke="#3b7e0e" stroke-width="1.5" stroke-linejoin="round" stroke-linecap="round"/>
<polyline points="86.50,1359.00 98.25,1281.72 110.01,1279.38 121.76,1277.22 133.51,1276.32 145.26,1275.42 157.02,1275.06 168.77,1274.52 180.52,1274.16 192.27,1273.98 204.03,1273.82 215.78,1273.66 227.53,1273.51 239.28,1273.37 251.04,1273.23 262.79,1273.10 274.54,1272.98 286.29,1272.87 298.05,1272.78 309.80,1272.72" fill="none" stroke="#2178ee" stroke-width="1.5" stroke-linejoin="round" stroke-linecap="round"/>
<polyline points="86.50,1359.00 98.25,1271.82 110.01,1266.42 121.76,1264.26 133.51,1263.18 145.26,1262.28 157.02,1261.92 168.77,1261.38 180.52,1261.20 192.27,1261.02 204.03,1260.83 215.78,1260.65 227.53,1260.48 239.28,1260.32 251.04,1260.16 262.79,1260.01 274.54,1259.88 286.29,1259.75 298.05,1259.65 309.80,1259.58" fill="none" stroke="#2178ee" stroke-width="1.5" stroke-linejoin="round" stroke-linecap="round"/>
<polyline points="86.50,1359.00 98.25,1202.51 110.01,1191.71 121.76,1187.21 133.51,1182.17 145.26,1180.01 157.02,1178.21 168.77,1176.77 180.52,1176.05 192.27,1174.97 204.03,1174.41 215.78,1173.88 227.53,1173.36 239.28,1172.87 251.04,1172.40 262.79,1171.96 274.54,1171.55 286.29,1171.18 298.05,1170.86 309.80,1170.65" fill="none" stroke="#2178ee" stroke-width="1.5" stroke-linejoin="round" stroke-linecap="round"/>
<polyline points="86.50,1359.00 98.25,1163.81 110.01,1147.96 121.76,1140.40 133.51,1135.90 145.26,1132.30 157.02,1129.60 168.77,1127.80 180.52,1126.00 192.27,1125.10 204.03,1124.30 215.78,1123.52 227.53,1122.76 239.28,1122.04 251.04,1121.36 262.79,1120.72 274.54,1120.12 286.29,1119.58 298.05,1119.12 309.80,1118.80" fill="none" stroke="#2178ee" stroke-width="1.5" stroke-linejoin="round" stroke-linecap="round"/>
<polyline points="86.50,1359.00 98.25,1333.02 110.01,1332.12 121.76,1329.42 133.51,1329.42 145.26,1329.06 157.02,1328.52 168.77,1328.52 180.52,1328.34 192.27,1327.98 204.03,1327.84 215.78,1327.71 227.53,1327.58 239.28,1327.46 251.04,1327.34 262.79,1327.23 274.54,1327.13 286.29,1327.04 298.05,1326.96 309.80,1326.90" fill="none" stroke="#e5615f" stroke-width="1.5" stroke-linejoin="round" stroke-linecap="round"/>
<polyline points="86.50,1359.00 98.25,1313.22 110.01,1311.06 121.76,1308.72 133.51,1307.82 145.26,1306.92 157.02,1306.38 168.77,1306.02 180.52,1306.02 192.27,1305.66 204.03,1305.43 215.78,1305.21 227.53,1304.99 239.28,1304.79 251.04,1304.59 262.79,1304.41 274.54,1304.24 286.29,1304.08 298.05,1303.95 309.80,1303.86" fill="none" stroke="#e5615f" stroke-width="1.5" stroke-linejoin="round" stroke-linecap="round"/>
<polyline points="86.50,1359.00 98.25,1303.32 110.01,1299.72 121.76,1298.46 133.51,1297.38 145.26,1297.02 157.02,1297.02 168.77,1297.02 180.52,1297.02 192.27,1297.02 204.03,1296.90 215.78,1296.79 227.53,1296.68 239.28,1296.58 251.04,1296.48 262.79,1296.39 274.54,1296.31 286.29,1296.23 298.05,1296.16 309.80,1296.12" fill="none" stroke="#e5615f" stroke-width="1.5" stroke-linejoin="round" stroke-linecap="round"/>
<polyline points="86.50,1359.00 98.25,1301.52 110.01,1298.46 121.76,1297.38 133.51,1296.30 145.26,1295.76 157.02,1294.68 168.77,1294.32 180.52,1293.96 192.27,1293.42 204.03,1293.19 215.78,1292.97 227.53,1292.75 239.28,1292.55 251.04,1292.35 262.79,1292.17 274.54,1291.99 286.29,1291.84 298.05,1291.71 309.80,1291.62" fill="none" stroke="#e5615f" stroke-width="1.5" stroke-linejoin="round" stroke-linecap="round"/>
<line x1="458.00" y1="95.90" x2="458.00" y2="347.70" stroke="#000" stroke-width="2.0" stroke-linecap="butt"/>
<line x1="457.00" y1="346.70" x2="681.30" y2="346.70" stroke="#000" stroke-width="2.0" stroke-linecap="butt"/>
<line x1="454.00" y1="346.70" x2="458.00" y2="346.70" stroke="#000" stroke-width="1.9" stroke-linecap="butt"/>
<text x="451.80" y="350.60" font-size="11.0" font-weight="bold" text-anchor="end" class="s">0</text>
<line x1="454.00" y1="284.25" x2="458.00" y2="284.25" stroke="#000" stroke-width="1.9" stroke-linecap="butt"/>
<text x="451.80" y="288.15" font-size="11.0" font-weight="bold" text-anchor="end" class="s">200</text>
<line x1="454.00" y1="221.80" x2="458.00" y2="221.80" stroke="#000" stroke-width="1.9" stroke-linecap="butt"/>
<text x="451.80" y="225.70" font-size="11.0" font-weight="bold" text-anchor="end" class="s">400</text>
<line x1="454.00" y1="159.35" x2="458.00" y2="159.35" stroke="#000" stroke-width="1.9" stroke-linecap="butt"/>
<text x="451.80" y="163.25" font-size="11.0" font-weight="bold" text-anchor="end" class="s">600</text>
<line x1="454.00" y1="96.90" x2="458.00" y2="96.90" stroke="#000" stroke-width="1.9" stroke-linecap="butt"/>
<text x="451.80" y="100.80" font-size="11.0" font-weight="bold" text-anchor="end" class="s">800</text>
<line x1="502.70" y1="346.70" x2="502.70" y2="350.50" stroke="#000" stroke-width="1.9" stroke-linecap="butt"/>
<text x="502.70" y="363.20" font-size="11" font-weight="bold" text-anchor="middle" class="s">Leaf</text>
<line x1="569.70" y1="346.70" x2="569.70" y2="350.50" stroke="#000" stroke-width="1.9" stroke-linecap="butt"/>
<text x="569.70" y="363.20" font-size="11" font-weight="bold" text-anchor="middle" class="s">Stem</text>
<line x1="636.80" y1="346.70" x2="636.80" y2="350.50" stroke="#000" stroke-width="1.9" stroke-linecap="butt"/>
<text x="636.80" y="363.20" font-size="11" font-weight="bold" text-anchor="middle" class="s">Root</text>
<text x="569.65" y="383.00" font-size="11.8" font-weight="bold" text-anchor="middle" class="s">Plant Tissue</text>
<text class="s" x="0" y="0" font-size="12" font-weight="bold" text-anchor="middle" transform="translate(425.90,221.80) rotate(-90)">Total Number of OTU</text>
<polyline points="502.70,101.80 502.70,77.90 636.80,77.90 636.80,101.80" fill="none" stroke="#000" stroke-width="1.5" stroke-linejoin="miter"/>
<polyline points="502.70,271.10 502.70,110.10 566.80,110.10 566.80,119.50" fill="none" stroke="#000" stroke-width="1.5" stroke-linejoin="miter"/>
<polyline points="572.60,119.50 572.60,110.10 636.80,110.10 636.80,206.00" fill="none" stroke="#000" stroke-width="1.5" stroke-linejoin="miter"/>
<text x="569.70" y="69.80" font-size="12" font-weight="normal" text-anchor="middle" class="r">ns</text>
<text x="535.20" y="102.40" font-size="12" font-weight="normal" text-anchor="middle" class="r">ns</text>
<text x="604.90" y="102.40" font-size="12" font-weight="normal" text-anchor="middle" class="r">ns</text>
<line x1="502.70" y1="279.60" x2="502.70" y2="281.80" stroke="#e5615f" stroke-width="2.2" stroke-linecap="butt"/>
<line x1="502.70" y1="314.90" x2="502.70" y2="320.00" stroke="#e5615f" stroke-width="2.2" stroke-linecap="butt"/>
<line x1="491.00" y1="279.60" x2="514.40" y2="279.60" stroke="#e5615f" stroke-width="2.2" stroke-linecap="butt"/>
<line x1="491.00" y1="320.00" x2="514.40" y2="320.00" stroke="#e5615f" stroke-width="2.2" stroke-linecap="butt"/>
<rect x="481.80" y="281.80" width="41.80" height="33.10" fill="none" stroke="#e5615f" stroke-width="2.2"/>
<line x1="481.80" y1="294.60" x2="523.60" y2="294.60" stroke="#e5615f" stroke-width="2.2" stroke-linecap="butt"/>
<line x1="569.70" y1="127.40" x2="569.70" y2="142.30" stroke="#2178ee" stroke-width="2.2" stroke-linecap="butt"/>
<line x1="569.70" y1="293.60" x2="569.70" y2="295.60" stroke="#2178ee" stroke-width="2.2" stroke-linecap="butt"/>
<line x1="558.00" y1="127.40" x2="581.40" y2="127.40" stroke="#2178ee" stroke-width="2.2" stroke-linecap="butt"/>
<line x1="558.00" y1="295.60" x2="581.40" y2="295.60" stroke="#2178ee" stroke-width="2.2" stroke-linecap="butt"/>
<rect x="548.80" y="142.30" width="41.80" height="151.30" fill="none" stroke="#2178ee" stroke-width="2.2"/>
<line x1="548.80" y1="236.30" x2="590.60" y2="236.30" stroke="#2178ee" stroke-width="2.2" stroke-linecap="butt"/>
<line x1="636.80" y1="214.50" x2="636.80" y2="218.00" stroke="#3b7e0e" stroke-width="2.2" stroke-linecap="butt"/>
<line x1="636.80" y1="234.00" x2="636.80" y2="238.80" stroke="#3b7e0e" stroke-width="2.2" stroke-linecap="butt"/>
<line x1="625.10" y1="214.50" x2="648.50" y2="214.50" stroke="#3b7e0e" stroke-width="2.2" stroke-linecap="butt"/>
<line x1="625.10" y1="238.80" x2="648.50" y2="238.80" stroke="#3b7e0e" stroke-width="2.2" stroke-linecap="butt"/>
<rect x="615.90" y="218.00" width="41.80" height="16.00" fill="none" stroke="#3b7e0e" stroke-width="2.2"/>
<line x1="615.90" y1="224.60" x2="657.70" y2="224.60" stroke="#3b7e0e" stroke-width="2.2" stroke-linecap="butt"/>
<line x1="458.00" y1="450.70" x2="458.00" y2="701.70" stroke="#000" stroke-width="2.0" stroke-linecap="butt"/>
<line x1="457.00" y1="700.70" x2="681.20" y2="700.70" stroke="#000" stroke-width="2.0" stroke-linecap="butt"/>
<line x1="454.00" y1="700.70" x2="458.00" y2="700.70" stroke="#000" stroke-width="1.9" stroke-linecap="butt"/>
<text x="451.80" y="704.60" font-size="11.0" font-weight="bold" text-anchor="end" class="s">0</text>
<line x1="454.00" y1="650.90" x2="458.00" y2="650.90" stroke="#000" stroke-width="1.9" stroke-linecap="butt"/>
<text x="451.80" y="654.80" font-size="11.0" font-weight="bold" text-anchor="end" class="s">200</text>
<line x1="454.00" y1="601.10" x2="458.00" y2="601.10" stroke="#000" stroke-width="1.9" stroke-linecap="butt"/>
<text x="451.80" y="605.00" font-size="11.0" font-weight="bold" text-anchor="end" class="s">400</text>
<line x1="454.00" y1="551.30" x2="458.00" y2="551.30" stroke="#000" stroke-width="1.9" stroke-linecap="butt"/>
<text x="451.80" y="555.20" font-size="11.0" font-weight="bold" text-anchor="end" class="s">600</text>
<line x1="454.00" y1="501.50" x2="458.00" y2="501.50" stroke="#000" stroke-width="1.9" stroke-linecap="butt"/>
<text x="451.80" y="505.40" font-size="11.0" font-weight="bold" text-anchor="end" class="s">800</text>
<line x1="454.00" y1="451.70" x2="458.00" y2="451.70" stroke="#000" stroke-width="1.9" stroke-linecap="butt"/>
<text x="451.80" y="455.60" font-size="11.0" font-weight="bold" text-anchor="end" class="s">1000</text>
<line x1="502.70" y1="700.70" x2="502.70" y2="704.50" stroke="#000" stroke-width="1.9" stroke-linecap="butt"/>
<text x="502.70" y="717.20" font-size="11" font-weight="bold" text-anchor="middle" class="s">Leaf</text>
<line x1="569.70" y1="700.70" x2="569.70" y2="704.50" stroke="#000" stroke-width="1.9" stroke-linecap="butt"/>
<text x="569.70" y="717.20" font-size="11" font-weight="bold" text-anchor="middle" class="s">Stem</text>
<line x1="636.80" y1="700.70" x2="636.80" y2="704.50" stroke="#000" stroke-width="1.9" stroke-linecap="butt"/>
<text x="636.80" y="717.20" font-size="11" font-weight="bold" text-anchor="middle" class="s">Root</text>
<text x="569.60" y="737.00" font-size="11.8" font-weight="bold" text-anchor="middle" class="s">Plant Tissue</text>
<text class="s" x="0" y="0" font-size="12" font-weight="bold" text-anchor="middle" transform="translate(418.80,576.20) rotate(-90)">Chao-1</text>
<polyline points="502.70,455.40 502.70,431.70 636.80,431.70 636.80,455.40" fill="none" stroke="#000" stroke-width="1.5" stroke-linejoin="miter"/>
<polyline points="502.70,610.10 502.70,464.20 566.80,464.20 566.80,473.40" fill="none" stroke="#000" stroke-width="1.5" stroke-linejoin="miter"/>
<polyline points="572.60,473.40 572.60,464.20 636.80,464.20 636.80,542.60" fill="none" stroke="#000" stroke-width="1.5" stroke-linejoin="miter"/>
<text x="569.70" y="423.90" font-size="12" font-weight="normal" text-anchor="middle" class="r">ns</text>
<text x="535.20" y="456.50" font-size="12" font-weight="normal" text-anchor="middle" class="r">ns</text>
<text x="604.90" y="456.50" font-size="12" font-weight="normal" text-anchor="middle" class="r">ns</text>
<line x1="502.70" y1="619.00" x2="502.70" y2="620.00" stroke="#e5615f" stroke-width="2.2" stroke-linecap="butt"/>
<line x1="502.70" y1="655.00" x2="502.70" y2="668.70" stroke="#e5615f" stroke-width="2.2" stroke-linecap="butt"/>
<line x1="491.00" y1="619.00" x2="514.40" y2="619.00" stroke="#e5615f" stroke-width="2.2" stroke-linecap="butt"/>
<line x1="491.00" y1="668.70" x2="514.40" y2="668.70" stroke="#e5615f" stroke-width="2.2" stroke-linecap="butt"/>
<rect x="481.80" y="620.00" width="41.80" height="35.00" fill="none" stroke="#e5615f" stroke-width="2.2"/>
<line x1="481.80" y1="620.60" x2="523.60" y2="620.60" stroke="#e5615f" stroke-width="2.2" stroke-linecap="butt"/>
<line x1="569.70" y1="481.90" x2="569.70" y2="494.40" stroke="#2178ee" stroke-width="2.2" stroke-linecap="butt"/>
<line x1="569.70" y1="644.80" x2="569.70" y2="646.90" stroke="#2178ee" stroke-width="2.2" stroke-linecap="butt"/>
<line x1="558.00" y1="481.90" x2="581.40" y2="481.90" stroke="#2178ee" stroke-width="2.2" stroke-linecap="butt"/>
<line x1="558.00" y1="646.90" x2="581.40" y2="646.90" stroke="#2178ee" stroke-width="2.2" stroke-linecap="butt"/>
<rect x="548.80" y="494.40" width="41.80" height="150.40" fill="none" stroke="#2178ee" stroke-width="2.2"/>
<line x1="548.80" y1="586.20" x2="590.60" y2="586.20" stroke="#2178ee" stroke-width="2.2" stroke-linecap="butt"/>
<line x1="636.80" y1="550.90" x2="636.80" y2="556.00" stroke="#3b7e0e" stroke-width="2.2" stroke-linecap="butt"/>
<line x1="636.80" y1="583.00" x2="636.80" y2="587.80" stroke="#3b7e0e" stroke-width="2.2" stroke-linecap="butt"/>
<line x1="625.10" y1="550.90" x2="648.50" y2="550.90" stroke="#3b7e0e" stroke-width="2.2" stroke-linecap="butt"/>
<line x1="625.10" y1="587.80" x2="648.50" y2="587.80" stroke="#3b7e0e" stroke-width="2.2" stroke-linecap="butt"/>
<rect x="615.90" y="556.00" width="41.80" height="27.00" fill="none" stroke="#3b7e0e" stroke-width="2.2"/>
<line x1="615.90" y1="570.60" x2="657.70" y2="570.60" stroke="#3b7e0e" stroke-width="2.2" stroke-linecap="butt"/>
<line x1="458.00" y1="780.90" x2="458.00" y2="1029.90" stroke="#000" stroke-width="2.0" stroke-linecap="butt"/>
<line x1="457.00" y1="1028.90" x2="679.20" y2="1028.90" stroke="#000" stroke-width="2.0" stroke-linecap="butt"/>
<line x1="454.00" y1="1028.90" x2="458.00" y2="1028.90" stroke="#000" stroke-width="1.9" stroke-linecap="butt"/>
<text x="451.80" y="1032.80" font-size="11.0" font-weight="bold" text-anchor="end" class="s">0.0</text>
<line x1="454.00" y1="946.57" x2="458.00" y2="946.57" stroke="#000" stroke-width="1.9" stroke-linecap="butt"/>
<text x="451.80" y="950.47" font-size="11.0" font-weight="bold" text-anchor="end" class="s">0.5</text>
<line x1="454.00" y1="864.23" x2="458.00" y2="864.23" stroke="#000" stroke-width="1.9" stroke-linecap="butt"/>
<text x="451.80" y="868.13" font-size="11.0" font-weight="bold" text-anchor="end" class="s">1.0</text>
<line x1="454.00" y1="781.90" x2="458.00" y2="781.90" stroke="#000" stroke-width="1.9" stroke-linecap="butt"/>
<text x="451.80" y="785.80" font-size="11.0" font-weight="bold" text-anchor="end" class="s">1.5</text>
<line x1="502.40" y1="1028.90" x2="502.40" y2="1032.70" stroke="#000" stroke-width="1.9" stroke-linecap="butt"/>
<text x="502.40" y="1045.40" font-size="11" font-weight="bold" text-anchor="middle" class="s">Leaf</text>
<line x1="568.80" y1="1028.90" x2="568.80" y2="1032.70" stroke="#000" stroke-width="1.9" stroke-linecap="butt"/>
<text x="568.80" y="1045.40" font-size="11" font-weight="bold" text-anchor="middle" class="s">Stem</text>
<line x1="635.00" y1="1028.90" x2="635.00" y2="1032.70" stroke="#000" stroke-width="1.9" stroke-linecap="butt"/>
<text x="635.00" y="1045.40" font-size="11" font-weight="bold" text-anchor="middle" class="s">Root</text>
<text x="568.60" y="1065.20" font-size="11.8" font-weight="bold" text-anchor="middle" class="s">Plant Tissue</text>
<text class="s" x="0" y="0" font-size="12" font-weight="bold" text-anchor="middle" transform="translate(428.90,905.40) rotate(-90)">Simpson’s Index</text>
<polyline points="502.40,847.30 502.40,823.70 635.00,823.70 635.00,847.30" fill="none" stroke="#000" stroke-width="1.5" stroke-linejoin="miter"/>
<polyline points="502.40,930.60 502.40,855.60 565.90,855.60 565.90,864.60" fill="none" stroke="#000" stroke-width="1.5" stroke-linejoin="miter"/>
<polyline points="571.70,864.60 571.70,855.60 635.00,855.60 635.00,875.70" fill="none" stroke="#000" stroke-width="1.5" stroke-linejoin="miter"/>
<line x1="564.10" y1="809.70" x2="564.10" y2="816.50" stroke="#000" stroke-width="1.95" stroke-linecap="round"/>
<line x1="561.16" y1="811.40" x2="567.04" y2="814.80" stroke="#000" stroke-width="1.95" stroke-linecap="round"/>
<line x1="561.16" y1="814.80" x2="567.04" y2="811.40" stroke="#000" stroke-width="1.95" stroke-linecap="round"/>
<line x1="573.50" y1="809.70" x2="573.50" y2="816.50" stroke="#000" stroke-width="1.95" stroke-linecap="round"/>
<line x1="570.56" y1="811.40" x2="576.44" y2="814.80" stroke="#000" stroke-width="1.95" stroke-linecap="round"/>
<line x1="570.56" y1="814.80" x2="576.44" y2="811.40" stroke="#000" stroke-width="1.95" stroke-linecap="round"/>
<line x1="534.20" y1="841.90" x2="534.20" y2="848.70" stroke="#000" stroke-width="1.95" stroke-linecap="round"/>
<line x1="531.26" y1="843.60" x2="537.14" y2="847.00" stroke="#000" stroke-width="1.95" stroke-linecap="round"/>
<line x1="531.26" y1="847.00" x2="537.14" y2="843.60" stroke="#000" stroke-width="1.95" stroke-linecap="round"/>
<text x="603.60" y="848.10" font-size="12" font-weight="normal" text-anchor="middle" class="r">ns</text>
<line x1="502.40" y1="940.10" x2="502.40" y2="948.00" stroke="#e5615f" stroke-width="2.2" stroke-linecap="butt"/>
<line x1="502.40" y1="988.80" x2="502.40" y2="995.90" stroke="#e5615f" stroke-width="2.2" stroke-linecap="butt"/>
<line x1="490.70" y1="940.10" x2="514.10" y2="940.10" stroke="#e5615f" stroke-width="2.2" stroke-linecap="butt"/>
<line x1="490.70" y1="995.90" x2="514.10" y2="995.90" stroke="#e5615f" stroke-width="2.2" stroke-linecap="butt"/>
<rect x="481.50" y="948.00" width="41.80" height="40.80" fill="none" stroke="#e5615f" stroke-width="2.2"/>
<line x1="481.50" y1="970.70" x2="523.30" y2="970.70" stroke="#e5615f" stroke-width="2.2" stroke-linecap="butt"/>
<line x1="568.80" y1="873.20" x2="568.80" y2="878.70" stroke="#2178ee" stroke-width="2.2" stroke-linecap="butt"/>
<line x1="568.80" y1="937.60" x2="568.80" y2="944.70" stroke="#2178ee" stroke-width="2.2" stroke-linecap="butt"/>
<line x1="557.10" y1="873.20" x2="580.50" y2="873.20" stroke="#2178ee" stroke-width="2.2" stroke-linecap="butt"/>
<line x1="557.10" y1="944.70" x2="580.50" y2="944.70" stroke="#2178ee" stroke-width="2.2" stroke-linecap="butt"/>
<rect x="547.90" y="878.70" width="41.80" height="58.90" fill="none" stroke="#2178ee" stroke-width="2.2"/>
<line x1="547.90" y1="907.00" x2="589.70" y2="907.00" stroke="#2178ee" stroke-width="2.2" stroke-linecap="butt"/>
<line x1="635.00" y1="884.30" x2="635.00" y2="886.10" stroke="#3b7e0e" stroke-width="2.2" stroke-linecap="butt"/>
<line x1="635.00" y1="913.10" x2="635.00" y2="922.90" stroke="#3b7e0e" stroke-width="2.2" stroke-linecap="butt"/>
<line x1="623.30" y1="884.30" x2="646.70" y2="884.30" stroke="#3b7e0e" stroke-width="2.2" stroke-linecap="butt"/>
<line x1="623.30" y1="922.90" x2="646.70" y2="922.90" stroke="#3b7e0e" stroke-width="2.2" stroke-linecap="butt"/>
<rect x="614.10" y="886.10" width="41.80" height="27.00" fill="none" stroke="#3b7e0e" stroke-width="2.2"/>
<line x1="614.10" y1="889.30" x2="655.90" y2="889.30" stroke="#3b7e0e" stroke-width="2.2" stroke-linecap="butt"/>
<line x1="458.00" y1="1108.80" x2="458.00" y2="1360.00" stroke="#000" stroke-width="2.0" stroke-linecap="butt"/>
<line x1="457.00" y1="1359.00" x2="681.40" y2="1359.00" stroke="#000" stroke-width="2.0" stroke-linecap="butt"/>
<line x1="454.00" y1="1359.00" x2="458.00" y2="1359.00" stroke="#000" stroke-width="1.9" stroke-linecap="butt"/>
<text x="451.80" y="1362.90" font-size="11.0" font-weight="bold" text-anchor="end" class="s">0</text>
<line x1="454.00" y1="1309.16" x2="458.00" y2="1309.16" stroke="#000" stroke-width="1.9" stroke-linecap="butt"/>
<text x="451.80" y="1313.06" font-size="11.0" font-weight="bold" text-anchor="end" class="s">2</text>
<line x1="454.00" y1="1259.32" x2="458.00" y2="1259.32" stroke="#000" stroke-width="1.9" stroke-linecap="butt"/>
<text x="451.80" y="1263.22" font-size="11.0" font-weight="bold" text-anchor="end" class="s">4</text>
<line x1="454.00" y1="1209.48" x2="458.00" y2="1209.48" stroke="#000" stroke-width="1.9" stroke-linecap="butt"/>
<text x="451.80" y="1213.38" font-size="11.0" font-weight="bold" text-anchor="end" class="s">6</text>
<line x1="454.00" y1="1159.64" x2="458.00" y2="1159.64" stroke="#000" stroke-width="1.9" stroke-linecap="butt"/>
<text x="451.80" y="1163.54" font-size="11.0" font-weight="bold" text-anchor="end" class="s">8</text>
<line x1="454.00" y1="1109.80" x2="458.00" y2="1109.80" stroke="#000" stroke-width="1.9" stroke-linecap="butt"/>
<text x="451.80" y="1113.70" font-size="11.0" font-weight="bold" text-anchor="end" class="s">10</text>
<line x1="502.70" y1="1359.00" x2="502.70" y2="1362.80" stroke="#000" stroke-width="1.9" stroke-linecap="butt"/>
<text x="502.70" y="1375.50" font-size="11" font-weight="bold" text-anchor="middle" class="s">Leaf</text>
<line x1="569.70" y1="1359.00" x2="569.70" y2="1362.80" stroke="#000" stroke-width="1.9" stroke-linecap="butt"/>
<text x="569.70" y="1375.50" font-size="11" font-weight="bold" text-anchor="middle" class="s">Stem</text>
<line x1="636.80" y1="1359.00" x2="636.80" y2="1362.80" stroke="#000" stroke-width="1.9" stroke-linecap="butt"/>
<text x="636.80" y="1375.50" font-size="11" font-weight="bold" text-anchor="middle" class="s">Root</text>
<text x="569.70" y="1395.30" font-size="11.8" font-weight="bold" text-anchor="middle" class="s">Plant Tissue</text>
<text class="s" x="0" y="0" font-size="12" font-weight="bold" text-anchor="middle" transform="translate(431.50,1234.40) rotate(-90)">Shannon’s Index</text>
<polyline points="502.70,1155.00 502.70,1130.90 636.80,1130.90 636.80,1155.00" fill="none" stroke="#000" stroke-width="1.5" stroke-linejoin="miter"/>
<polyline points="502.70,1301.40 502.70,1163.20 566.80,1163.20 566.80,1172.20" fill="none" stroke="#000" stroke-width="1.5" stroke-linejoin="miter"/>
<polyline points="572.60,1172.20 572.60,1163.20 636.80,1163.20 636.80,1214.30" fill="none" stroke="#000" stroke-width="1.5" stroke-linejoin="miter"/>
<line x1="569.90" y1="1116.80" x2="569.90" y2="1123.60" stroke="#000" stroke-width="1.95" stroke-linecap="round"/>
<line x1="566.96" y1="1118.50" x2="572.84" y2="1121.90" stroke="#000" stroke-width="1.95" stroke-linecap="round"/>
<line x1="566.96" y1="1121.90" x2="572.84" y2="1118.50" stroke="#000" stroke-width="1.95" stroke-linecap="round"/>
<line x1="535.00" y1="1149.30" x2="535.00" y2="1156.10" stroke="#000" stroke-width="1.95" stroke-linecap="round"/>
<line x1="532.06" y1="1151.00" x2="537.94" y2="1154.40" stroke="#000" stroke-width="1.95" stroke-linecap="round"/>
<line x1="532.06" y1="1154.40" x2="537.94" y2="1151.00" stroke="#000" stroke-width="1.95" stroke-linecap="round"/>
<text x="605.00" y="1156.00" font-size="12" font-weight="normal" text-anchor="middle" class="r">ns</text>
<line x1="502.70" y1="1310.00" x2="502.70" y2="1311.20" stroke="#e5615f" stroke-width="2.2" stroke-linecap="butt"/>
<line x1="502.70" y1="1331.10" x2="502.70" y2="1336.30" stroke="#e5615f" stroke-width="2.2" stroke-linecap="butt"/>
<line x1="491.00" y1="1310.00" x2="514.40" y2="1310.00" stroke="#e5615f" stroke-width="2.2" stroke-linecap="butt"/>
<line x1="491.00" y1="1336.30" x2="514.40" y2="1336.30" stroke="#e5615f" stroke-width="2.2" stroke-linecap="butt"/>
<rect x="481.80" y="1311.20" width="41.80" height="19.90" fill="none" stroke="#e5615f" stroke-width="2.2"/>
<line x1="481.80" y1="1314.20" x2="523.60" y2="1314.20" stroke="#e5615f" stroke-width="2.2" stroke-linecap="butt"/>
<line x1="569.70" y1="1180.50" x2="569.70" y2="1191.20" stroke="#2178ee" stroke-width="2.2" stroke-linecap="butt"/>
<line x1="569.70" y1="1291.20" x2="569.70" y2="1292.80" stroke="#2178ee" stroke-width="2.2" stroke-linecap="butt"/>
<line x1="558.00" y1="1180.50" x2="581.40" y2="1180.50" stroke="#2178ee" stroke-width="2.2" stroke-linecap="butt"/>
<line x1="558.00" y1="1292.80" x2="581.40" y2="1292.80" stroke="#2178ee" stroke-width="2.2" stroke-linecap="butt"/>
<rect x="548.80" y="1191.20" width="41.80" height="100.00" fill="none" stroke="#2178ee" stroke-width="2.2"/>
<line x1="548.80" y1="1253.80" x2="590.60" y2="1253.80" stroke="#2178ee" stroke-width="2.2" stroke-linecap="butt"/>
<line x1="636.80" y1="1222.90" x2="636.80" y2="1224.40" stroke="#3b7e0e" stroke-width="2.2" stroke-linecap="butt"/>
<line x1="636.80" y1="1252.90" x2="636.80" y2="1262.70" stroke="#3b7e0e" stroke-width="2.2" stroke-linecap="butt"/>
<line x1="625.10" y1="1222.90" x2="648.50" y2="1222.90" stroke="#3b7e0e" stroke-width="2.2" stroke-linecap="butt"/>
<line x1="625.10" y1="1262.70" x2="648.50" y2="1262.70" stroke="#3b7e0e" stroke-width="2.2" stroke-linecap="butt"/>
<rect x="615.90" y="1224.40" width="41.80" height="28.50" fill="none" stroke="#3b7e0e" stroke-width="2.2"/>
<line x1="615.90" y1="1226.90" x2="657.70" y2="1226.90" stroke="#3b7e0e" stroke-width="2.2" stroke-linecap="butt"/>
<text x="2.30" y="99.90" font-size="25" font-weight="bold" text-anchor="start" >A</text>
<text x="2.80" y="452.70" font-size="25" font-weight="bold" text-anchor="start" >B</text>
<text x="2.70" y="780.20" font-size="25" font-weight="bold" text-anchor="start" >C</text>
<text x="2.80" y="1115.00" font-size="25" font-weight="bold" text-anchor="start" >D</text>
<text x="375.50" y="99.90" font-size="25" font-weight="bold" text-anchor="start" >E</text>
<text x="375.50" y="452.70" font-size="25" font-weight="bold" text-anchor="start" >F</text>
<text x="375.20" y="780.20" font-size="25" font-weight="bold" text-anchor="start" >G</text>
<text x="375.50" y="1115.00" font-size="25" font-weight="bold" text-anchor="start" >H</text>
<line x1="110.70" y1="12.70" x2="142.20" y2="12.70" stroke="#e5615f" stroke-width="3.2" stroke-linecap="round"/>
<line x1="299.30" y1="12.70" x2="330.60" y2="12.70" stroke="#2178ee" stroke-width="3.2" stroke-linecap="round"/>
<line x1="499.30" y1="12.70" x2="530.70" y2="12.70" stroke="#3b7e0e" stroke-width="3.2" stroke-linecap="round"/>
<text x="0" y="0" font-size="29" font-weight="bold" transform="translate(160.10,23.8) scale(0.975,1.06)">Leaf</text>
<text x="0" y="0" font-size="29" font-weight="bold" transform="translate(348.90,23.8) scale(0.975,1.06)">Stem</text>
<text x="0" y="0" font-size="29" font-weight="bold" transform="translate(548.00,23.8) scale(0.975,1.06)">Root</text>
</svg>
</body></html>
